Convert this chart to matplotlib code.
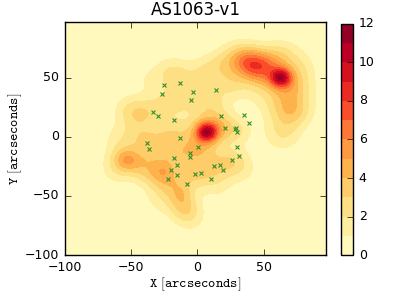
import matplotlib
matplotlib.use('Agg')
import matplotlib.pyplot as plt
import numpy as np

plt.style.use('classic')
plt.rcParams['mathtext.fontset'] = 'cm'

# galaxy positions (arcsec)
gal_x = [-25.0, -13.0, -26.7, -3.3, 14.0, -4.6, -33.8, -29.8, -17.6, 17.8,
         34.9, 38.7, 20.9, 28.2, 28.7, 30.0, -13.2, -38.2, -36.6, 0.3,
         29.8, -5.3, -5.3, -17.6, 31.6, 25.7, -15.8, 12.5, 16.8, 19.3,
         -20.1, -15.3, -1.8, 2.3, -22.4, 9.9, -8.2]
gal_y = [44.2, 45.1, 36.2, 38.2, 39.7, 31.0, 21.0, 17.5, 14.1, 17.2,
         18.4, 11.5, 7.8, 6.6, 7.2, 4.3, -1.4, -5.5, -10.1, -8.9,
         -8.3, -13.5, -17.0, -17.8, -16.1, -19.5, -23.6, -24.4, -23.9, -28.4,
         -28.4, -32.2, -31.6, -30.5, -35.9, -35.9, -39.7]

# density components: centre, peak, width
blob_x = [7, 6,
          63, 46, 36, 58, 66,
          -53, -25, -12,
          -55, -40, -28, -15, -10, 0, 15, 28, -30, -15, 0, -20, -42, 15, 30,
          -47, -35, -20, -5, 10, 25, 5, -15, 20, 38,
          55, 72, 74, 64,
          -62, -60, -52, -35, -20, -5, -28, 15, 35, 78, 66, 30]
blob_y = [4, 4,
          50, 58, 62, 46, 22,
          -20, -28, -50,
          -18, -25, -35, -42, -60, -30, -25, -20, -10, -15, -10, 5, 0, 10, 5,
          18, 22, 30, 35, 30, 45, 55, 50, 62, 66,
          62, 42, 22, 2,
          -30, 0, 25, 48, 58, -70, -55, -42, -30, 60, 72, 72]
blob_amp = [7.0, 2.8,
            6.5, 3.5, 2.0, 2.5, 1.5,
            1.6, 1.6, 1.1,
            2.6, 2.4, 2.4, 2.4, 2.4, 2.4, 2.0, 1.8, 2.2, 2.2, 2.0, 1.9, 2.0, 1.9, 1.6,
            1.6, 1.6, 1.7, 1.8, 1.7, 1.8, 1.7, 1.5, 1.8, 2.0,
            2.2, 2.2, 2.0, 1.8,
            1.0, 1.0, 1.0, 1.0, 1.0, 1.1, 1.0, 1.0, 0.9, 1.0, 1.0, 1.0]
blob_sig = [5.5, 13,
            5.5, 9, 8, 15, 10,
            6, 6, 6,
            9, 9, 9, 9, 8, 9, 9, 8, 9, 9, 9, 9, 9, 9, 8,
            9, 9, 9, 9, 9, 9, 9, 9, 9, 9,
            10, 10, 10, 10,
            9, 9, 9, 9, 9, 9, 9, 9, 9, 9, 9, 9]

levels = np.arange(0, 13, 1)

gx = np.linspace(-100, 97, 300)
gy = np.linspace(-100, 97, 300)
X, Y = np.meshgrid(gx, gy)
Z = np.zeros_like(X)
for bx, by, ba, bs in zip(blob_x, blob_y, blob_amp, blob_sig):
    Z += ba * np.exp(-((X - bx) ** 2 + (Y - by) ** 2) / (2 * bs ** 2))

fig = plt.figure(figsize=(3.99, 2.99), dpi=100)
ax = fig.add_axes([0.163, 0.147, 0.654, 0.779])
cf = ax.contourf(X, Y, Z, levels=levels, cmap='YlOrRd')
ax.plot(gal_x, gal_y, 'x', color='#33902a', markersize=3, markeredgewidth=0.8)
ax.set_xlim(-100, 97)
ax.set_ylim(-100, 97)
ax.set_xticks([-100, -50, 0, 50])
ax.set_yticks([-100, -50, 0, 50])
ax.tick_params(labelsize=9)
ax.set_title('AS1063-v1', fontsize=12)
ax.set_xlabel(r'$\mathtt{X}\ [\mathtt{arcseconds}]$', fontsize=10, labelpad=1)
ax.set_ylabel(r'$\mathtt{Y}\ [\mathtt{arcseconds}]$', fontsize=10, labelpad=1)

cax = fig.add_axes([0.855, 0.147, 0.03, 0.773])
cb = fig.colorbar(cf, cax=cax, ticks=[0, 2, 4, 6, 8, 10, 12])
cb.ax.tick_params(labelsize=9)

fig.savefig('out.png', dpi=100)
